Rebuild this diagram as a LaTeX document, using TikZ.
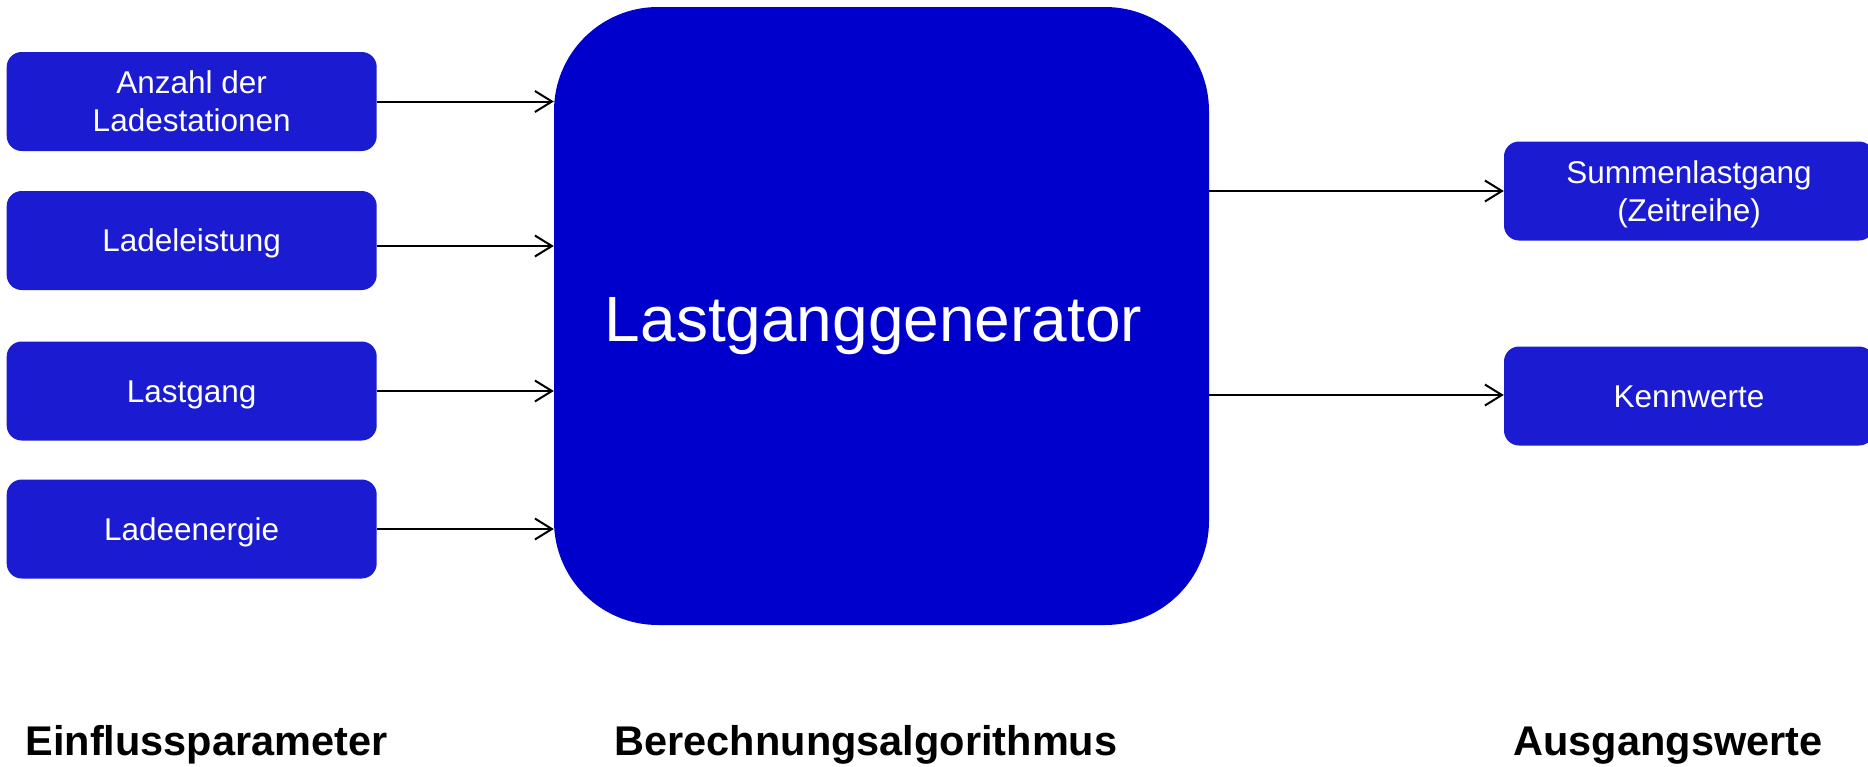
\documentclass[tikz,border=0pt]{standalone}
\usepackage{fontspec}
\setmainfont{Liberation Sans}
\usetikzlibrary{arrows.meta,calc}

\definecolor{coreblue}{RGB}{0,0,204}
\definecolor{boxblue}{RGB}{27,27,209}

\tikzset{
  x=1pt, y=-1pt,
  parambox/.style={fill=boxblue, rounded corners=15pt, minimum width=370pt,
    minimum height=99pt, inner sep=0pt, text=white, align=center,
    font=\fontsize{31.5}{38}\selectfont},
  oneline/.style={text height=22.5pt, text depth=0pt},
  corebox/.style={fill=coreblue, rounded corners=104pt, minimum width=655pt,
    minimum height=618pt, inner sep=0pt},
  coretext/.style={text=white, font=\fontsize{64}{70}\selectfont, inner sep=0pt},
  caption/.style={font=\bfseries\fontsize{41.5}{48}\selectfont, inner sep=0pt},
  flow/.style={line width=2pt, -{Straight Barb[length=17pt,width=21pt,line width=2pt]}}
}

% drop the depth of a line so that the block centres on its baselines
\newcommand{\nodepth}[1]{\raisebox{0pt}[\height][0pt]{#1}}

\begin{document}
\begin{tikzpicture}
\useasboundingbox (0,0) rectangle (1868,766);
\clip (0,0) rectangle (1868,766);

% central algorithm block
\node[corebox] (core) at (881.5,316) {};
\node[coretext, anchor=base] (coretitle) at (873.5,341) {Lastganggenerator};

% input parameters
\node[parambox] (p1) at (191.7,101.5) {Anzahl der\\Ladestationen};
\node[parambox, oneline] (p2) at (191.7,240.5) {Ladeleistung};
\node[parambox, oneline] (p3) at (191.7,391) {Lastgang};
\node[parambox, oneline] (p4) at (191.7,529) {Ladeenergie};

% outputs
\node[parambox] (o1) at (1689,191) {Summenlastgang\\\nodepth{(Zeitreihe)}};
\node[parambox, oneline] (o2) at (1689,396) {Kennwerte};

% connectors
\coordinate (s2) at ([yshift=-5.5pt]p2.east);
\draw[flow] (p1.east) -- (p1.east -| core.west);
\draw[flow] (s2) -- (s2 -| core.west);
\draw[flow] (p3.east) -- (p3.east -| core.west);
\draw[flow] (p4.east) -- (p4.east -| core.west);
\coordinate (t2) at ([yshift=1pt]o2.west);
\draw[flow] (o1.west -| core.east) -- (o1.west);
\draw[flow] (t2 -| core.east) -- (t2);

% column captions
\node[caption, anchor=base] (c1) at (206.5,755) {Einflussparameter};
\node[caption, anchor=base] (c2) at (866,755) {Berechnungsalgorithmus};
\node[caption, anchor=base] (c3) at (1668,755) {Ausgangswerte};
\end{tikzpicture}
\end{document}
